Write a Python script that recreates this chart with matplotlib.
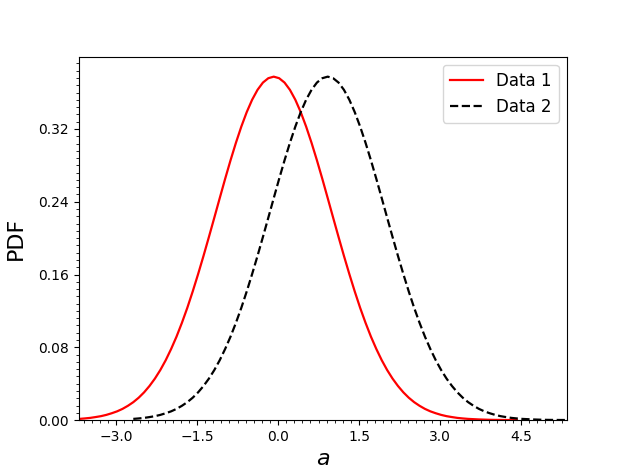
import matplotlib
matplotlib.use("Agg")
import matplotlib.pyplot as plt
from matplotlib.ticker import MultipleLocator, AutoMinorLocator

# Data
x1 = [-3.78, -3.68, -3.58, -3.48, -3.38, -3.28, -3.18, -3.08, -2.98, -2.88,
      -2.78, -2.68, -2.58, -2.48, -2.38, -2.28, -2.18, -2.08, -1.98, -1.88,
      -1.78, -1.68, -1.58, -1.48, -1.38, -1.28, -1.18, -1.08, -0.98, -0.88,
      -0.78, -0.68, -0.58, -0.48, -0.38, -0.28, -0.18, -0.08, 0.02, 0.12,
      0.22, 0.32, 0.42, 0.52, 0.62, 0.72, 0.82, 0.92, 1.02, 1.12,
      1.22, 1.32, 1.42, 1.52, 1.62, 1.72, 1.82, 1.92, 2.02, 2.12,
      2.22, 2.32, 2.42, 2.52, 2.62, 2.72, 2.82, 2.92, 3.02, 3.12,
      3.22, 3.32, 3.42, 3.52, 3.62, 3.72, 3.82, 3.92, 4.02, 4.12,
      4.22, 4.32, 4.42]
pdf1 = [0.0010, 0.0013, 0.0018, 0.0024, 0.0033, 0.0043, 0.0057, 0.0075, 0.0096, 0.0123,
        0.0157, 0.0197, 0.0246, 0.0305, 0.0375, 0.0456, 0.0550, 0.0658, 0.0781, 0.0917,
        0.1069, 0.1234, 0.1414, 0.1605, 0.1805, 0.2013, 0.2225, 0.2439, 0.2651, 0.2855,
        0.3048, 0.3226, 0.3385, 0.3521, 0.3630, 0.3710, 0.3758, 0.3775, 0.3758, 0.3710,
        0.3630, 0.3521, 0.3385, 0.3226, 0.3048, 0.2855, 0.2651, 0.2439, 0.2225, 0.2013,
        0.1805, 0.1605, 0.1414, 0.1234, 0.1069, 0.0917, 0.0781, 0.0658, 0.0550, 0.0456,
        0.0375, 0.0305, 0.0246, 0.0197, 0.0157, 0.0123, 0.0096, 0.0075, 0.0057, 0.0043,
        0.0033, 0.0024, 0.0018, 0.0013, 0.0010, 0.0007, 0.0005, 0.0003, 0.0002, 0.00015,
        0.0001, 0.00007, 0.00005]

x2 = [-2.68, -2.58, -2.48, -2.38, -2.28, -2.18, -2.08, -1.98, -1.88,
      -1.78, -1.68, -1.58, -1.48, -1.38, -1.28, -1.18, -1.08, -0.98, -0.88,
      -0.78, -0.68, -0.58, -0.48, -0.38, -0.28, -0.18, -0.08, 0.02, 0.12,
      0.22, 0.32, 0.42, 0.52, 0.62, 0.72, 0.82, 0.92, 1.02, 1.12,
      1.22, 1.32, 1.42, 1.52, 1.62, 1.72, 1.82, 1.92, 2.02, 2.12,
      2.22, 2.32, 2.42, 2.52, 2.62, 2.72, 2.82, 2.92, 3.02, 3.12,
      3.22, 3.32, 3.42, 3.52, 3.62, 3.72, 3.82, 3.92, 4.02, 4.12,
      4.22, 4.32, 4.42, 4.52, 4.62, 4.72, 4.82, 4.92, 5.02, 5.12,
      5.22, 5.32, 5.42]
pdf2 = [0.0013, 0.0018, 0.0024, 0.0033, 0.0043, 0.0057, 0.0075, 0.0096, 0.0123,
        0.0157, 0.0197, 0.0246, 0.0305, 0.0375, 0.0456, 0.0550, 0.0658, 0.0781, 0.0917,
        0.1069, 0.1234, 0.1414, 0.1605, 0.1805, 0.2013, 0.2225, 0.2439, 0.2651, 0.2855,
        0.3048, 0.3226, 0.3385, 0.3521, 0.3630, 0.3710, 0.3758, 0.3775, 0.3758, 0.3710,
        0.3630, 0.3521, 0.3385, 0.3226, 0.3048, 0.2855, 0.2651, 0.2439, 0.2225, 0.2013,
        0.1805, 0.1605, 0.1414, 0.1234, 0.1069, 0.0917, 0.0781, 0.0658, 0.0550, 0.0456,
        0.0375, 0.0305, 0.0246, 0.0197, 0.0157, 0.0123, 0.0096, 0.0075, 0.0057, 0.0043,
        0.0033, 0.0024, 0.0018, 0.0013, 0.0010, 0.0007, 0.0005, 0.0003, 0.0002, 0.00015,
        0.0001, 0.00007, 0.00005]

labels = ["Data 1", "Data 2"]

fig, ax = plt.subplots(figsize=(6.3, 4.72), dpi=100)
ax.plot(x1, pdf1, color="red", linestyle="-", linewidth=1.6, label=labels[0])
ax.plot(x2, pdf2, color="black", linestyle="--", linewidth=1.6, label=labels[1])

ax.set_xlim(-3.69, 5.35)
ax.set_ylim(0, 0.3995)
ax.xaxis.set_major_locator(MultipleLocator(1.5))
ax.yaxis.set_major_locator(MultipleLocator(0.08))
ax.xaxis.set_minor_locator(AutoMinorLocator(10))
ax.yaxis.set_minor_locator(AutoMinorLocator(10))
ax.tick_params(axis="both", which="major", labelsize=10)

ax.set_xlabel("$a$", fontsize=16)
ax.set_ylabel("PDF", fontsize=16, labelpad=9)
ax.legend(loc="upper right", fontsize=12)

fig.savefig("out.png", dpi=100)
